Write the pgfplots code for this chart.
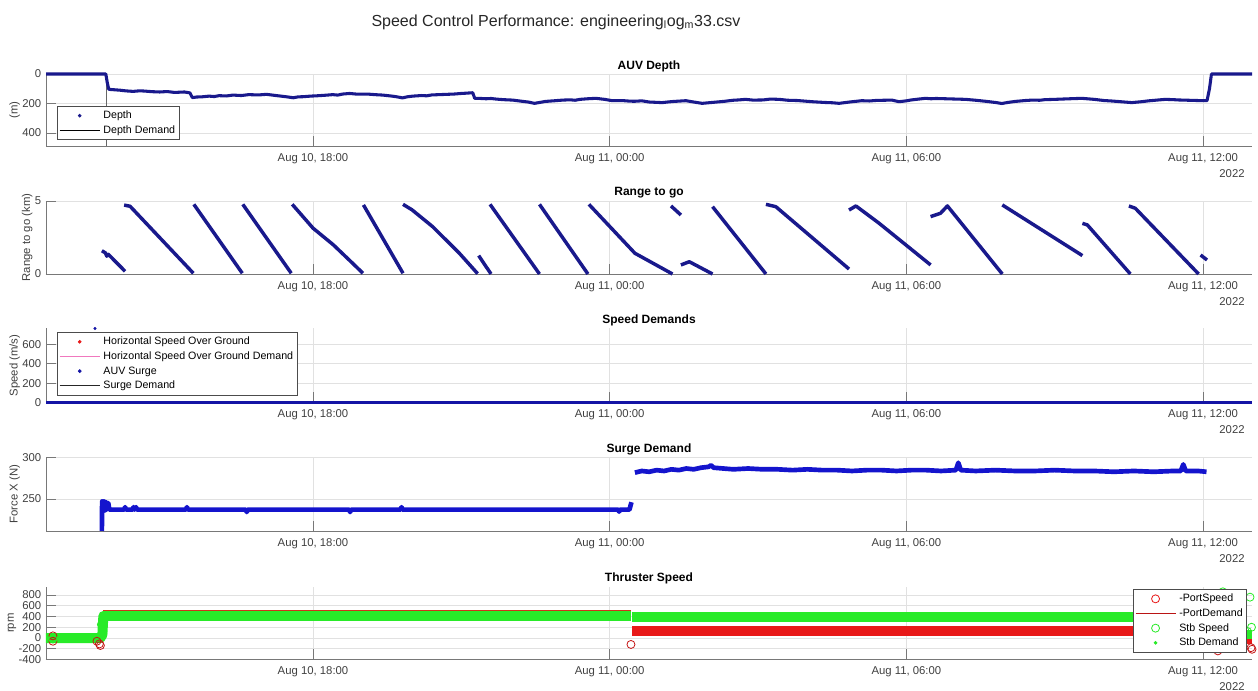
\documentclass[border=0pt]{standalone}
\usepackage{fontspec}
\setmainfont{Liberation Sans}
\usepackage{pgfplots}
\pgfplotsset{compat=1.18}

\definecolor{depthblue}{RGB}{25,25,140}
\definecolor{surgeblue}{RGB}{20,20,205}
\definecolor{speedblue}{RGB}{20,20,165}
\definecolor{tgreen}{RGB}{40,235,40}
\definecolor{tred}{RGB}{232,25,25}
\definecolor{axgray}{RGB}{120,120,120}
\definecolor{gridgray}{RGB}{225,225,225}
\definecolor{lblgray}{RGB}{64,64,64}
\definecolor{pinkd}{RGB}{240,120,190}

\pgfplotsset{
  panel/.style={
    scale only axis, anchor=south west, width=904.5pt,
    xmin=12.6, xmax=36.99,
    axis x line*=bottom, axis y line*=left,
    axis line style={-, draw=axgray, line width=0.6pt},
    xtick={18,24,30,36},
    xticklabels={{Aug 10, 18:00},{Aug 11, 00:00},{Aug 11, 06:00},{Aug 11, 12:00}},
    tick align=inside, major tick length=7.5pt,
    major tick style={draw=axgray, line width=0.6pt},
    xmajorgrids, ymajorgrids,
    major grid style={draw=gridgray, line width=0.5pt},
    ticklabel style={font=\fontsize{8.5}{10}\selectfont, text=lblgray},
    xticklabel style={yshift=-2pt},
    /pgf/number format/assume math mode=true,
    title style={font=\bfseries\fontsize{9}{11}\selectfont, at={(0.5,1)}, anchor=center, yshift=0pt},
    ylabel style={font=\fontsize{8.5}{10}\selectfont, text=lblgray},
    ylabel shift=-5pt,
    legend cell align=left,
    legend style={font=\fontsize{8}{9.5}\selectfont, draw=black!70, line width=0.5pt,
      fill=white, inner sep=1.5pt, row sep=0pt, column sep=1pt,
      nodes={inner sep=1.5pt, text height=6.2pt, text depth=1.8pt}},
    clip=false,
    after end axis/.append code={
      \node[anchor=north east, font=\fontsize{8.5}{10}\selectfont, text=lblgray]
        at (axis description cs:1,0) [yshift=-14pt, xshift=-2pt] {2022};
    },
  },
  dotimg/.style={legend image code/.code={\path (0pt,0pt) (30pt,0pt); \fill[#1] (15pt,0pt) circle (1.1pt);}},
  lineimg/.style={legend image code/.code={\draw[#1, line width=0.6pt] (0pt,0pt) -- (30pt,0pt);}},
  circimg/.style={legend image code/.code={\path (0pt,0pt) (30pt,0pt); \draw[#1, line width=0.6pt] (15pt,0pt) circle (3pt);}},
}

\begin{document}
\begin{tikzpicture}
\path[use as bounding box] (0,0) rectangle (943.5pt,518.25pt);

\node[font=\fontsize{12}{14}\selectfont, text=black!85] at (417pt,501.75pt)
  {Speed Control Performance: engineering\textsubscript{l}og\textsubscript{m}33.csv};

% ---- AUV Depth
\begin{axis}[panel, at={(34.5pt,408.75pt)}, height=54pt,
  ymin=-488, ymax=0, ytick={-400,-200,0}, yticklabels={400,200,0},
  ylabel={(m)}, title={AUV Depth},
  legend style={at={(0.0091,0.083)}, anchor=south west}]
\addplot[black!60, line width=1pt, forget plot] coordinates {(13.82,0) (13.82,-488)};
\addplot[depthblue, line width=2.3pt, line join=round, y filter/.expression={-y}, forget plot] coordinates {
(12.60,0)(13.81,0)(13.84,60)(13.87,104)(14.1,110)(14.2,114)(14.36,118)(14.5,114)(14.6,116)(14.75,120)(14.9,122)(15.05,119)(15.2,125)(15.4,122)
(15.51,128)(15.56,160)(15.65,156)(15.75,155)(15.9,150)(16.0,153)(16.1,147)(16.25,149)(16.38,143)(16.55,146)(16.7,140)(16.9,142)(17.06,138)
(17.3,148)(17.45,154)(17.6,161)(17.7,155)(17.8,154)(17.95,150)(18.07,148)(18.25,144)(18.4,140)(18.5,143)(18.6,136)(18.74,132)(18.9,137)
(19.1,136)(19.25,140)(19.41,143)(19.6,150)(19.7,155)(19.81,162)(19.9,155)(20.02,150)(20.2,146)(20.3,148)(20.4,142)(20.55,140)(20.7,138)
(20.85,136)(21.0,132)(21.1,130)(21.23,127)(21.27,165)(21.4,166)(21.5,168)(21.6,166)(21.7,170)(21.85,174)(22.04,177)(22.2,184)
(22.35,190)(22.48,199)(22.6,192)(22.7,186)(22.9,181)(23.05,177)(23.2,175)(23.3,178)(23.4,172)(23.55,168)(23.72,165)
(23.9,172)(24.05,181)(24.25,180)(24.4,184)(24.5,185)(24.65,182)(24.8,190)(25.06,194)(25.2,189)(25.3,186)(25.54,181)(25.7,190)(25.87,199)
(26.1,192)(26.3,186)(26.4,182)(26.5,178)(26.6,176)(26.75,172)(26.9,177)(27.1,176)(27.25,170)(27.43,172)(27.6,178)(27.8,180)
(27.95,184)(28.1,188)(28.35,193)(28.5,195)(28.64,199)(28.85,190)(29.1,181)(29.25,183)(29.4,179)(29.71,177)(29.85,188)(30.0,182)(30.1,176)
(30.25,170)(30.39,165)(30.5,168)(30.6,166)(30.8,168)(31.0,170)(31.2,172)(31.4,178)(31.6,185)(31.8,193)(31.93,200)
(32.05,193)(32.2,186)(32.4,180)(32.54,177)(32.7,178)(32.8,174)(33.0,172)(33.15,170)(33.3,168)(33.55,165)(33.8,172)(34.0,180)
(34.15,183)(34.3,187)(34.56,194)(34.75,188)(34.9,182)(35.1,176)(35.24,172)(35.4,174)(35.5,176)(35.7,178)(35.9,180)(36.08,181)
(36.13,100)(36.17,0)(36.99,0)};
\addlegendimage{dotimg=depthblue}
\addlegendentry{Depth}
\addlegendimage{lineimg=black}
\addlegendentry{Depth Demand}
\end{axis}

% ---- Range to go
\begin{axis}[panel, at={(34.5pt,312.75pt)}, height=54.75pt,
  ymin=0, ymax=5, ytick={0,5}, ylabel={Range to go (km)}, title={Range to go}]
\addplot[depthblue, line width=2.6pt, line join=round, unbounded coords=jump] coordinates {
(13.73,1.59)(13.80,1.45)(13.83,1.22)(13.86,1.35)(14.20,0.18)(14.2,nan)
(14.18,4.72)(14.30,4.64)(15.58,0.05)(15.58,nan)
(15.59,4.77)(16.57,0.05)(16.57,nan)
(16.58,4.77)(17.56,0.05)(17.56,nan)
(17.58,4.77)(18.00,3.14)(18.41,2.00)(18.75,0.90)(19.01,0.05)(19.01,nan)
(19.02,4.73)(19.82,0.05)(19.82,nan)
(19.82,4.77)(20.00,4.40)(20.42,3.24)(20.96,1.42)(21.33,0.02)(21.33,nan)
(21.35,1.26)(21.60,0.0)(21.60,nan)
(21.58,4.77)(22.58,0.0)(22.58,nan)
(22.58,4.77)(23.56,0.0)(23.56,nan)
(23.58,4.77)(24.51,1.42)(25.27,0.0)(25.27,nan)
(25.24,4.66)(25.44,4.04)(25.44,nan)
(25.44,0.62)(25.61,0.84)(26.08,0.0)(26.08,nan)
(26.08,4.61)(27.16,0.0)(27.16,nan)
(27.16,4.77)(27.36,4.61)(28.84,0.34)(28.84,nan)
(28.84,4.38)(28.98,4.66)(29.45,3.47)(30.49,0.62)(30.49,nan)
(30.49,3.93)(30.69,4.16)(30.83,4.66)(31.94,0.0)(31.94,nan)
(31.94,4.73)(33.56,1.26)(33.56,nan)
(33.56,3.47)(33.66,3.36)(34.53,0.0)(34.53,nan)
(34.50,4.66)(34.63,4.50)(35.91,0.0)(35.91,nan)
(35.95,1.30)(36.08,0.96)};
\end{axis}

% ---- Speed Demands
\begin{axis}[panel, at={(34.5pt,216.375pt)}, height=55.5pt,
  ymin=0, ymax=765, ytick={0,200,400,600}, ylabel={Speed (m/s)}, title={Speed Demands},
  legend style={at={(0.0091,0.095)}, anchor=south west}]
\addplot[tred, line width=1.5pt, forget plot] coordinates {(12.6,0)(36.99,0)};
\addplot[speedblue, line width=2.2pt, forget plot] coordinates {(12.6,0)(36.99,0)};
\addplot[only marks, mark=*, mark size=0.9pt, speedblue, forget plot] coordinates {(13.59,765)};
\addlegendimage{dotimg=tred}
\addlegendentry{Horizontal Speed Over Ground}
\addlegendimage{lineimg=pinkd}
\addlegendentry{Horizontal Speed Over Ground Demand}
\addlegendimage{dotimg=speedblue}
\addlegendentry{AUV Surge}
\addlegendimage{lineimg=black!85}
\addlegendentry{Surge Demand}
\end{axis}

% ---- Surge Demand
\begin{axis}[panel, at={(34.5pt,120pt)}, height=55.5pt,
  ymin=211, ymax=301, ytick={250,300}, ylabel={Force X (N)}, title={Surge Demand}]
\addplot[surgeblue, line width=3.5pt, line join=round] coordinates {
(13.73,211)(13.735,247)(13.75,236)(13.77,247)(13.79,236)(13.81,246)(13.83,237)(13.86,245)(13.88,237)
(14.18,237)(14.2,240)(14.22,237)(14.35,237)(14.37,240)(14.39,237)(14.42,240)(14.44,237)
(15.43,237)(15.45,240)(15.47,237)(16.64,237)(16.66,234)(16.68,237)(18.73,237)(18.75,234)(18.77,237)
(19.77,237)(19.79,240)(19.81,237)(24.17,237)(24.19,234.5)(24.21,237)(24.40,237)(24.44,246)};
\addplot[surgeblue, line width=3.5pt, line join=round] coordinates {
(24.51,282)(24.65,284)(24.8,283)(24.95,285)(25.1,284)(25.25,286)(25.4,285)(25.55,287)(25.7,286)(25.85,288)
(26.0,289)(26.05,291)(26.1,288)(26.3,287)(26.5,286)(26.8,287)(27.1,286)(27.4,286)(27.7,285)(28.0,286)
(28.3,285)(28.6,285)(28.9,284)(29.2,285)(29.5,285)(29.8,284)(30.1,285)(30.4,285)(30.7,284)(31.0,285)
(31.05,294)(31.1,285)(31.4,284)(31.8,285)(32.2,284)(32.6,284)(33.0,285)(33.4,284)(33.8,284)(34.2,283)
(34.6,284)(35.0,283)(35.4,284)(35.55,284)(35.6,292)(35.65,284)(35.9,284)(36.07,283)};
\end{axis}

% ---- Thruster Speed
\begin{axis}[panel, at={(34.5pt,23.625pt)}, height=54.6pt,
  ymin=-400, ymax=955, ytick={-400,-200,0,200,400,600,800}, ylabel={rpm}, title={Thruster Speed},
  legend style={at={(0.9959,0.096)}, anchor=south east}]
\addplot[tred, line width=7.5pt, forget plot] coordinates {(13.76,425)(24.43,425)};
\addplot[tgreen, line width=7.5pt, line join=round, forget plot] coordinates {
(12.6,0)(13.70,0)(13.74,60)(13.76,410)(24.43,410)};
\addplot[tred, line width=7.5pt, forget plot] coordinates {(24.46,125)(36.07,125)};
\addplot[tgreen, line width=7.5pt, forget plot] coordinates {(24.46,390)(36.07,390)};
\addplot[tred, line width=6pt, forget plot] coordinates {(36.1,-30)(36.99,-30)};
\addplot[tgreen, line width=7pt, forget plot] coordinates {(36.1,60)(36.99,60)};
\addplot[only marks, mark=o, mark size=3pt, tred!85!black, mark options={line width=0.6pt}, forget plot] coordinates {
(12.74,-60)(12.74,40)(13.63,-60)(13.68,-110)(13.70,-140)(24.43,-120)(36.3,-240)(36.97,-180)(36.99,-210)};
\addplot[only marks, mark=o, mark size=3pt, tgreen, mark options={line width=0.6pt}, forget plot] coordinates {
(12.74,-20)(13.72,250)(13.75,80)(36.4,860)(36.95,760)(36.98,200)(36.9,120)};
\addlegendimage{circimg=tred}
\addlegendentry{-PortSpeed}
\addlegendimage{lineimg=tred!80!black}
\addlegendentry{-PortDemand}
\addlegendimage{circimg=tgreen}
\addlegendentry{Stb Speed}
\addlegendimage{dotimg=tgreen}
\addlegendentry{Stb Demand}
\end{axis}
\end{tikzpicture}
\end{document}
